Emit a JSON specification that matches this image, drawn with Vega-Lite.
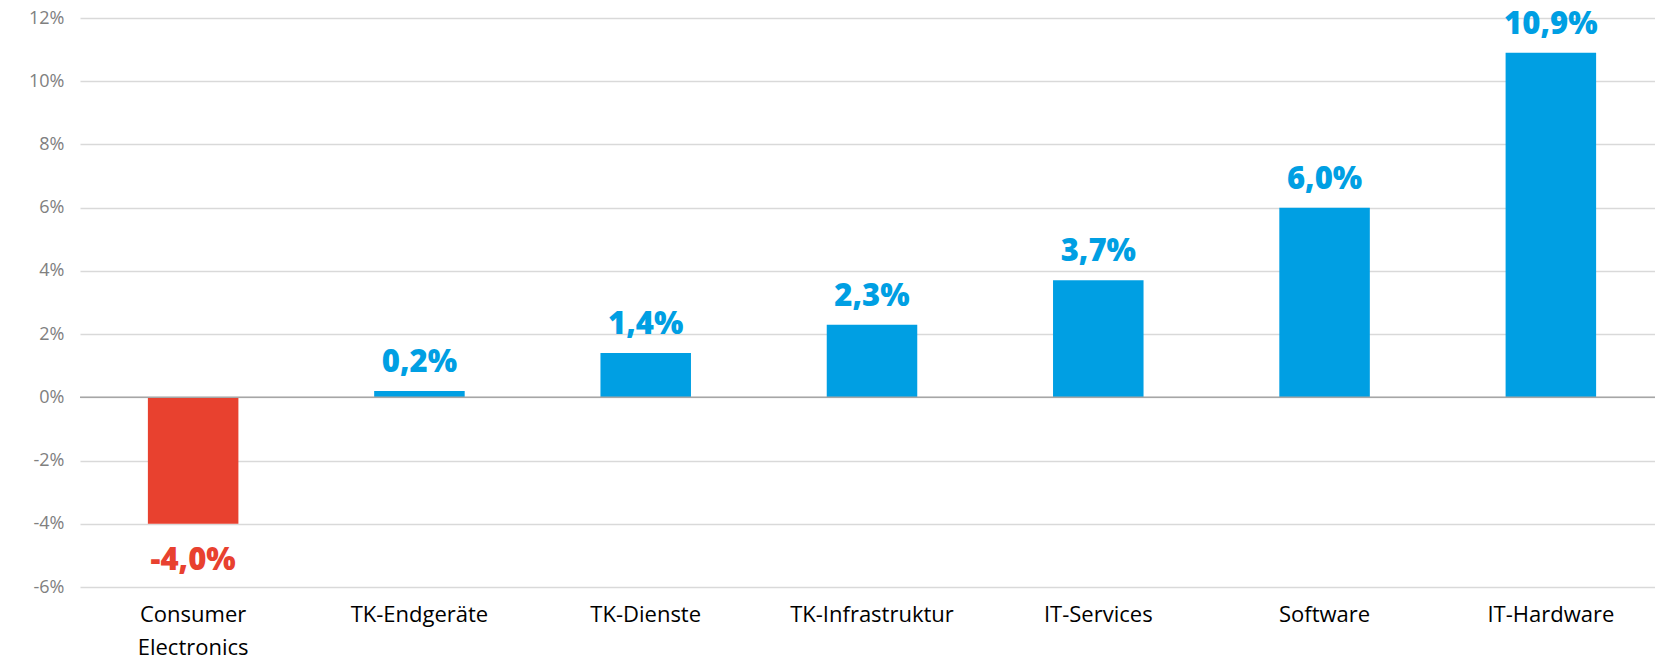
{
  "$schema": "https://vega.github.io/schema/vega-lite/v6.json",
  "width": 1584,
  "height": 569,
  "autosize": {"type": "none"},
  "padding": {"left": 80, "top": 18, "right": 0, "bottom": 75},
  "background": "white",
  "config": {
    "locale": {"number": {"decimal": ",", "thousands": ".", "grouping": [3], "currency": ["", " €"], "minus": "-"}},
    "view": {"stroke": null},
    "font": "Open Sans"
  },
  "data": {
    "values": [
      {"category": "Consumer Electronics", "value": -0.040},
      {"category": "TK-Endgeräte", "value": 0.002},
      {"category": "TK-Dienste", "value": 0.014},
      {"category": "TK-Infrastruktur", "value": 0.023},
      {"category": "IT-Services", "value": 0.037},
      {"category": "Software", "value": 0.060},
      {"category": "IT-Hardware", "value": 0.109}
    ]
  },
  "encoding": {
    "x": {
      "field": "category", "type": "nominal", "sort": null,
      "scale": {"paddingInner": 0.6, "paddingOuter": 0.3},
      "axis": {
        "title": null, "domain": false, "ticks": false, "labelAngle": 0,
        "labelFontSize": 22, "labelColor": "#000000", "labelPadding": 17,
        "labelLineHeight": 33, "labelFont": "Open Sans",
        "labelExpr": "split(datum.label, ' ')"
      }
    },
    "y": {
      "field": "value", "type": "quantitative",
      "scale": {"domain": [-0.06, 0.12], "nice": false, "zero": false},
      "axis": {
        "title": null, "domain": false, "ticks": false,
        "values": [-0.06, -0.04, -0.02, 0, 0.02, 0.04, 0.06, 0.08, 0.10, 0.12],
        "format": ".0%", "labelFontSize": 18, "labelColor": "#808080",
        "labelPadding": 16, "gridColor": "#d9d9d9", "gridWidth": 1.5
      }
    }
  },
  "layer": [
    {
      "mark": {"type": "bar"},
      "encoding": {
        "color": {"condition": {"test": "datum.value < 0", "value": "#E8412F"}, "value": "#009FE3"}
      }
    },
    {
      "data": {"values": [{"z": 0}]},
      "mark": {"type": "rule", "color": "#a6a6a6", "strokeWidth": 1.5},
      "encoding": {"y": {"field": "z", "type": "quantitative"}, "x": {"value": 0}, "x2": {"value": 1584}}
    },
    {
      "transform": [{"filter": "datum.value >= 0"}],
      "mark": {"type": "text", "baseline": "alphabetic", "dy": -19, "fontSize": 31, "fontWeight": 800, "color": "#009FE3"},
      "encoding": {"text": {"field": "value", "type": "quantitative", "format": ".1%"}}
    },
    {
      "transform": [{"filter": "datum.value < 0"}],
      "mark": {"type": "text", "baseline": "alphabetic", "dy": 46, "fontSize": 31, "fontWeight": 800, "color": "#E8412F"},
      "encoding": {"text": {"field": "value", "type": "quantitative", "format": ".1%"}}
    }
  ]
}
